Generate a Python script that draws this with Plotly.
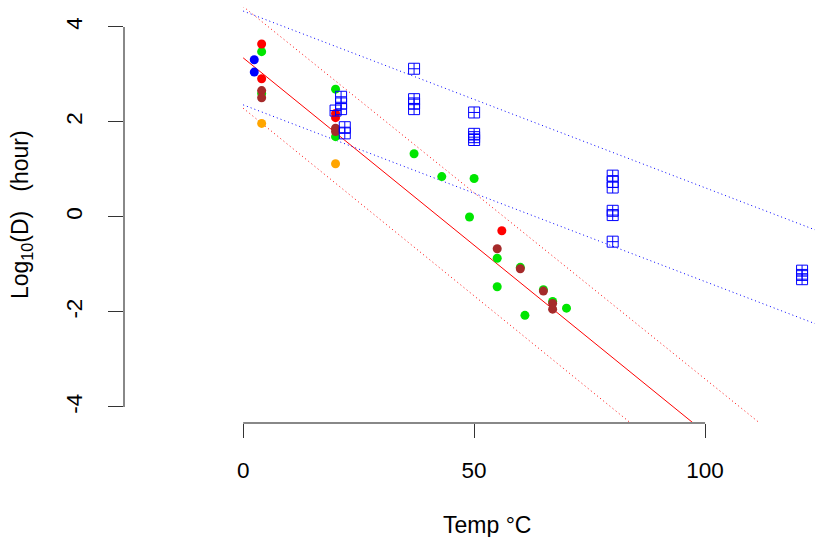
import plotly.graph_objects as go

# ---- data ----
red_x = [4, 4, 20, 20, 56]
red_y = [3.64, 2.91, 2.18, 2.09, -0.29]

green_x = [4, 4, 20, 20, 37, 43, 50, 49, 55, 60, 55, 65, 67, 70, 61]
green_y = [3.48, 2.60, 2.69, 1.69, 1.33, 0.85, 0.81, 0.00, -0.87, -1.06, -1.47, -1.53, -1.78, -1.92, -2.07]

blue_x = [2.4, 2.4]
blue_y = [3.31, 3.05]

brown_x = [4, 4, 20, 20, 55, 60, 65, 67, 67]
brown_y = [2.66, 2.51, 1.87, 1.80, -0.67, -1.09, -1.56, -1.82, -1.94]

orange_x = [4, 20]
orange_y = [1.97, 1.12]

sq_x = [20, 21.2, 21.2, 21.2, 22, 22, 37, 37, 37, 37, 50, 50, 50, 50,
        80, 80, 80, 80, 80, 80, 121, 121, 121]
sq_y = [2.24, 2.53, 2.39, 2.27, 1.89, 1.76, 3.12, 2.48, 2.39, 2.27, 2.20, 1.75, 1.68, 1.62,
        0.87, 0.74, 0.62, 0.13, 0.04, -0.52, -1.13, -1.22, -1.31]

# fitted lines: (intercept, slope)
red_fit = (3.35, -0.0789)
red_upper = (4.43, -0.0784)
red_lower = (2.29, -0.0790)
blue_upper = (4.335, -0.0372)
blue_lower = (2.36, -0.0372)
line_x = [0, 135]

x_ticks = [0, 50, 100]
y_ticks = [-4, -2, 0, 2, 4]

FONT = "Liberation Sans, Arial, sans-serif"
TICK_SIZE = 22.5
TITLE_SIZE = 23

fig = go.Figure()


def add_line(coef, color, dash):
    a, b = coef
    fig.add_trace(go.Scatter(
        x=line_x, y=[a + b * xx for xx in line_x], mode="lines",
        line=dict(color=color, width=1, dash=dash), hoverinfo="skip", showlegend=False))


add_line(red_fit, "#FF0000", "solid")
add_line(red_upper, "#FF0000", "1px,3px")
add_line(red_lower, "#FF0000", "1px,3px")
add_line(blue_upper, "#0000FF", "1px,3px")
add_line(blue_lower, "#0000FF", "1px,3px")


def add_pts(xs, ys, color):
    fig.add_trace(go.Scatter(
        x=xs, y=ys, mode="markers",
        marker=dict(color=color, size=9, symbol="circle", line=dict(width=0)),
        showlegend=False))


add_pts(green_x, green_y, "#00E600")
add_pts(red_x, red_y, "#FF0000")
add_pts(blue_x, blue_y, "#0000FF")
add_pts(brown_x, brown_y, "#A52A2A")
add_pts(orange_x, orange_y, "#FFA500")

fig.add_trace(go.Scatter(
    x=sq_x, y=sq_y, mode="markers",
    marker=dict(symbol="square-cross-open", size=11, color="#0000FF", line=dict(width=1, color="#0000FF")),
    showlegend=False))

fig.update_layout(
    width=815, height=537,
    margin=dict(l=124, r=0, t=7, b=114, autoexpand=False),
    paper_bgcolor="white", plot_bgcolor="white",
    font=dict(family=FONT, size=TICK_SIZE, color="black"),
    xaxis=dict(range=[-25.8, 123.8], tickvals=x_ticks, ticktext=[str(v) for v in x_ticks],
               ticks="outside", ticklen=14, tickwidth=1, tickcolor="#333",
               showgrid=False, zeroline=False, showline=False, automargin=False,
               tickfont=dict(size=TICK_SIZE, family=FONT, color="black"), ticklabelstandoff=13),
    yaxis=dict(range=[-4.337, 4.42], tickvals=y_ticks, ticktext=[str(v) for v in y_ticks],
               ticks="outside", ticklen=15, tickwidth=1, tickcolor="#333", tickangle=-90,
               showgrid=False, zeroline=False, showline=False, automargin=False,
               tickfont=dict(size=TICK_SIZE, family=FONT, color="black"), ticklabelstandoff=17),
    shapes=[
        dict(type="line", xref="x", yref="paper", x0=0, x1=100, y0=0, y1=0,
             line=dict(color="#888", width=2), layer="above"),
        dict(type="line", xref="paper", yref="y", x0=0, x1=0, y0=-4, y1=4,
             line=dict(color="#888", width=2), layer="above"),
    ],
    annotations=[
        dict(text="Temp °C", xref="paper", yref="paper", x=0.525, y=-0.245,
             xanchor="center", yanchor="middle", showarrow=False,
             font=dict(size=TITLE_SIZE, family=FONT, color="black")),
        dict(text="Log<sub>10</sub>(D)&nbsp;&nbsp;&nbsp;(hour)", xref="paper", yref="paper",
             x=-0.149, y=0.5, xanchor="center", yanchor="middle", textangle=-90, showarrow=False,
             font=dict(size=TITLE_SIZE, family=FONT, color="black")),
    ],
)

fig.write_html("out.html", config={"displayModeBar": False},
               post_script="document.body.style.margin='0';document.body.style.padding='0';")
